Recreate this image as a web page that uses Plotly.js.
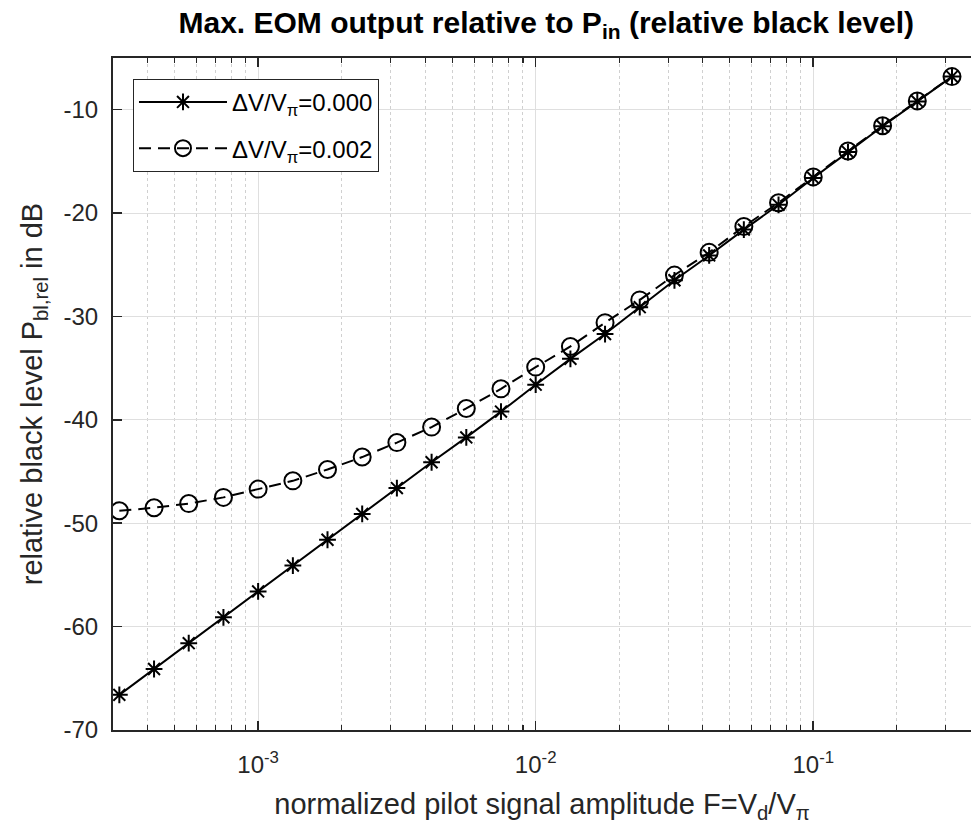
<!DOCTYPE html>
<html>
<head>
<meta charset="utf-8">
<script src="https://cdn.plot.ly/plotly-3.0.1.min.js"></script>
<style>
html,body{margin:0;padding:0;background:#fff;overflow:hidden;}
#chart{width:971px;height:830px;}
</style>
</head>
<body>
<div id="chart"></div>
<script>
// Normalized pilot amplitude F = Vd/Vpi (x values)
var amplitudeF = [3.162e-4, 4.217e-4, 5.623e-4, 7.499e-4, 1.000e-3, 1.334e-3, 1.778e-3, 2.371e-3,
                  3.162e-3, 4.217e-3, 5.623e-3, 7.499e-3, 1.000e-2, 1.334e-2, 1.778e-2, 2.371e-2,
                  3.162e-2, 4.217e-2, 5.623e-2, 7.499e-2, 0.1000, 0.1334, 0.1778, 0.2371, 0.3162];
// Relative black level in dB, dV/Vpi = 0.000
var blackLevel000 = [-66.6, -64.1, -61.6, -59.1, -56.6, -54.1, -51.6, -49.1,
                     -46.6, -44.1, -41.7, -39.2, -36.6, -34.1, -31.7, -29.1,
                     -26.5, -24.1, -21.6, -19.2, -16.6, -14.1, -11.6, -9.2, -6.8];
// Relative black level in dB, dV/Vpi = 0.002
var blackLevel002 = [-48.8, -48.5, -48.1, -47.5, -46.7, -45.9, -44.8, -43.6,
                     -42.2, -40.7, -38.9, -37.0, -34.9, -32.9, -30.6, -28.4,
                     -26.0, -23.8, -21.3, -19.0, -16.5, -14.0, -11.55, -9.15, -6.8];
var seriesNames = ['\u0394V/V<sub>\u03c0</sub>=0.000', '\u0394V/V<sub>\u03c0</sub>=0.002'];

var xTickVals = [1e-3, 1e-2, 1e-1];
var xTickText = ['10<sup>-3</sup>', '10<sup>-2</sup>', '10<sup>-1</sup>'];
var yTickVals = [-70, -60, -50, -40, -30, -20, -10];
var yTickText = ['-70', '-60', '-50', '-40', '-30', '-20', '-10'];

var minorTickVals = [];
[-4, -3, -2, -1].forEach(function (e) {
  for (var d = 2; d <= 9; d++) minorTickVals.push(d * Math.pow(10, e));
});

var FONT = '"Liberation Sans", Arial, Helvetica, sans-serif';
var AX = '#262626';

var traces = [
  {
    x: amplitudeF, y: blackLevel000, name: seriesNames[0], type: 'scatter', mode: 'lines+markers',
    legendgroup: 'g1',
    line: {color: '#000000', width: 2, dash: 'solid'},
    marker: {symbol: 'asterisk-open', size: 14, color: '#000000', line: {color: '#000000', width: 2}}
  },
  {
    x: amplitudeF, y: blackLevel002, name: seriesNames[1], type: 'scatter', mode: 'lines+markers',
    legendgroup: 'g2',
    line: {color: '#000000', width: 2, dash: '12px,7px'},
    marker: {symbol: 'circle-open', size: 17, color: '#000000', line: {color: '#000000', width: 2}}
  }
];

var layout = {
  width: 971, height: 830,
  margin: {l: 113, r: 0, t: 58, b: 100, pad: 0},
  paper_bgcolor: '#ffffff', plot_bgcolor: '#ffffff',
  font: {family: FONT, size: 24, color: AX},
  showlegend: true,
  title: {
    text: '<b>Max. EOM output relative to P<sub>in</sub> (relative black level)</b>',
    font: {family: FONT, size: 30, color: '#000000'},
    x: 0.505, xanchor: 'center', xref: 'paper',
    y: 0.973, yanchor: 'middle', yref: 'container'
  },
  xaxis: {
    type: 'log',
    range: [Math.log10(3e-4), -0.4316],
    tickmode: 'array', tickvals: xTickVals, ticktext: xTickText,
    ticks: 'inside', ticklen: 9, tickwidth: 1.5, tickcolor: AX,
    showline: true, linecolor: AX, linewidth: 2, mirror: 'ticks',
    showgrid: true, gridcolor: '#dfdfdf', gridwidth: 1,
    zeroline: false,
    tickfont: {family: FONT, size: 24, color: AX},
    ticklabelstandoff: 12,
    minor: {
      tickmode: 'array', tickvals: minorTickVals,
      ticks: 'inside', ticklen: 5, tickwidth: 1.2, tickcolor: AX,
      showgrid: true, gridcolor: '#d0d0d0', griddash: 'dot', gridwidth: 1
    },
    title: {
      text: 'normalized pilot signal amplitude F=V<sub>d</sub>/V<sub>\u03c0</sub>',
      font: {family: FONT, size: 29, color: AX},
      standoff: 17
    }
  },
  yaxis: {
    range: [-70, -5],
    tickmode: 'array', tickvals: yTickVals, ticktext: yTickText,
    ticks: 'inside', ticklen: 9, tickwidth: 1.5, tickcolor: AX,
    showline: true, linecolor: AX, linewidth: 2, mirror: false,
    showgrid: true, gridcolor: '#dfdfdf', gridwidth: 1,
    zeroline: false,
    tickfont: {family: FONT, size: 24, color: AX},
    ticklabelstandoff: 8,
    title: {
      text: 'relative black level P<sub>bl,rel</sub> in dB',
      font: {family: FONT, size: 29, color: AX},
      standoff: 12
    }
  },
  legend: {
    x: 0.0233, y: 0.969, xanchor: 'left', yanchor: 'top',
    bgcolor: '#ffffff', bordercolor: AX, borderwidth: 1,
    font: {family: FONT, size: 24, color: '#000000'},
    itemwidth: 88, tracegroupgap: 12
  }
};

Plotly.newPlot('chart', traces, layout, {displayModeBar: false, staticPlot: true});
</script>
</body>
</html>
